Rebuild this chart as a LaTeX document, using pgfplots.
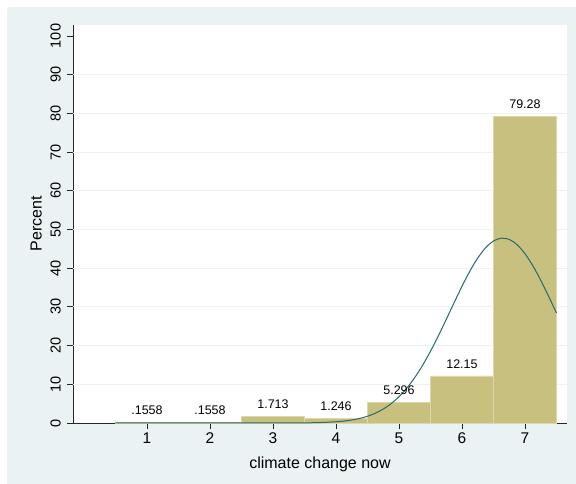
\documentclass[border=0pt]{standalone}
\usepackage{pgfplots}
\pgfplotsset{compat=1.18}
\usepackage{fontspec}
\setmainfont{Liberation Sans}
\definecolor{bgcol}{RGB}{234,242,243}
\definecolor{barcol}{RGB}{200,192,126}
\definecolor{baredge}{RGB}{222,215,170}
\definecolor{curvecol}{RGB}{38,107,110}
\definecolor{gridcol}{RGB}{234,242,243}
\begin{document}
\begin{tikzpicture}
% whole image and graph region
\fill[white] (-73pt,-61pt) rectangle (503pt,423pt);
\path[use as bounding box] (-73pt,-61pt) rectangle (503pt,423pt);
\fill[bgcol] (-66pt,-61pt) rectangle (503pt,416pt);
\begin{axis}[
  at={(0pt,0pt)}, anchor=south west,
  scale only axis,
  width=494pt, height=398pt,
  xmin=-0.1746, xmax=7.667,
  ymin=0, ymax=102.84,
  axis background/.style={fill=white},
  axis lines=left,
  axis line style={-, black!85, line width=0.9pt},
  xtick={1,2,3,4,5,6,7},
  ytick={0,10,...,100},
  extra y ticks={10,20,...,90},
  extra y tick labels={},
  extra y tick style={grid=major, major tick length=0pt},
  grid style={gridcol, line width=1pt},
  tick style={black!85, line width=0.9pt},
  major tick length=6pt,
  tick align=outside,
  /pgf/number format/assume math mode=true,
  xticklabel style={font=\fontsize{15.5}{18}\selectfont, anchor=north, inner sep=2pt, yshift=-1.5pt},
  yticklabel style={font=\fontsize{14.5}{17}\selectfont, xshift=-4pt, rotate=90, anchor=south, inner sep=2pt},
  xlabel={climate change now},
  ylabel={Percent},
  label style={font=\fontsize{16}{19}\selectfont},
  xlabel style={at={(axis description cs:0.5,0)}, anchor=north, yshift=-30pt},
  ylabel style={at={(axis description cs:0,0.5)}, anchor=south, yshift=31pt, inner sep=0pt},
  clip=false,
]
\addplot[ybar, bar width=1, fill=barcol, draw=baredge, line width=0.8pt,
  point meta=explicit symbolic,
  nodes near coords,
  every node near coord/.style={anchor=south, inner sep=0pt, yshift=7pt, font=\fontsize{12.5}{15}\selectfont, text=black}]
coordinates {
  (1,0.1558) [.1558]
  (2,0.1558) [.1558]
  (3,1.713) [1.713]
  (4,1.246) [1.246]
  (5,5.296) [5.296]
  (6,12.15) [12.15]
  (7,79.28) [79.28]
};
\addplot[smooth, color=curvecol, line width=1pt, mark=none] coordinates {
  (0.5,0) (1,0) (1.5,0) (2,0) (2.5,0.0002) (3,0.0034) (3.25,0.012)
  (3.5,0.039) (3.75,0.115) (4,0.312) (4.125,0.496) (4.25,0.771) (4.375,1.171)
  (4.5,1.742) (4.625,2.531) (4.75,3.599) (4.875,5.00) (5,6.80) (5.125,9.03)
  (5.25,11.74) (5.375,14.92) (5.5,18.54) (5.625,22.52) (5.75,26.76) (5.875,31.10)
  (6,35.32) (6.125,39.24) (6.25,42.62) (6.375,45.28) (6.5,47.03) (6.625,47.76)
  (6.75,47.43) (6.875,46.06) (7,43.74) (7.125,40.61) (7.25,36.88) (7.375,32.74)
  (7.5,28.42)
};
\end{axis}
\end{tikzpicture}
\end{document}
